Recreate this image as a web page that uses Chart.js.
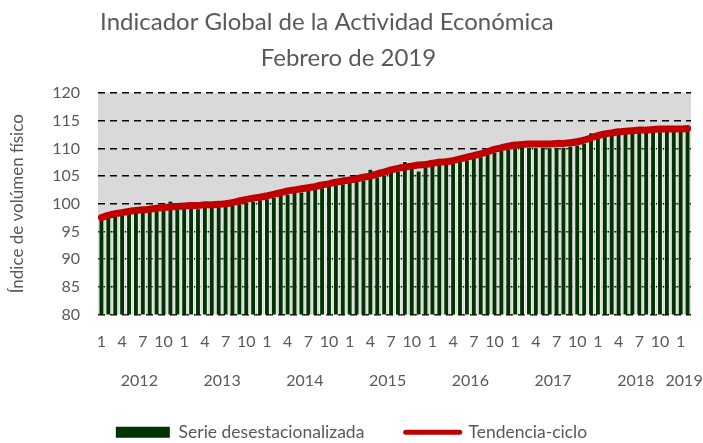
<!DOCTYPE html>
<html>
<head>
<meta charset="utf-8">
<script src="https://cdn.jsdelivr.net/npm/chart.js@4/dist/chart.umd.min.js"></script>
<style>
  html, body { margin: 0; padding: 0; background: #fff; }
  #wrap { width: 703px; height: 443px; }
</style>
</head>
<body>
<div id="wrap"><canvas id="chart" width="703" height="443"></canvas></div>
<script>
/* IGAE, serie desestacionalizada + tendencia-ciclo, ene 2012 – feb 2019 */

const years = [2012, 2013, 2014, 2015, 2016, 2017, 2018, 2019];
const monthsPerYear = [12, 12, 12, 12, 12, 12, 12, 2];
const monthTickLabels = ["1", "4", "7", "10"];
const yTicks = [80, 85, 90, 95, 100, 105, 110, 115, 120];

// Serie desestacionalizada (barras)
const serie = [
  97.2, 97.6, 98.0, 98.0, 98.3, 98.5, 98.6, 98.7, 98.9, 99.0, 100.6, 99.1,       // 2012
  99.3, 99.5, 99.2, 99.6, 99.4, 99.6, 99.6, 99.8, 100.1, 100.4, 100.5, 100.8,    // 2013
  101.0, 101.2, 101.6, 101.8, 102.1, 102.2, 102.5, 102.7, 103.0, 103.2, 103.5, 103.7, // 2014
  104.0, 104.1, 104.4, 106.3, 104.9, 105.3, 105.8, 106.0, 107.7, 106.5, 106.0, 106.7, // 2015
  107.0, 108.3, 107.2, 107.4, 107.7, 108.0, 108.3, 108.6, 109.0, 109.4, 109.7, 110.0, // 2016
  110.2, 110.3, 110.3, 110.2, 110.3, 110.2, 110.3, 110.3, 110.5, 110.7, 111.0, 112.9, // 2017
  112.0, 112.3, 112.5, 112.7, 112.8, 112.9, 113.0, 113.0, 113.1, 113.1, 113.2, 113.3, // 2018
  113.3, 113.4                                                                    // 2019
];

// Tendencia-ciclo (línea)
const tendencia = [
  97.5, 97.9, 98.2, 98.4, 98.6, 98.8, 98.9, 99.0, 99.2, 99.3, 99.4, 99.5,
  99.6, 99.7, 99.7, 99.8, 99.8, 99.9, 100.0, 100.2, 100.5, 100.8, 101.0, 101.2,
  101.4, 101.7, 102.0, 102.3, 102.5, 102.7, 102.9, 103.1, 103.4, 103.6, 103.9, 104.1,
  104.3, 104.5, 104.8, 105.0, 105.4, 105.7, 106.1, 106.4, 106.6, 106.8, 107.0, 107.1,
  107.3, 107.5, 107.6, 107.8, 108.1, 108.4, 108.7, 109.0, 109.4, 109.8, 110.1, 110.4,
  110.6, 110.7, 110.8, 110.8, 110.8, 110.8, 110.9, 110.9, 111.0, 111.2, 111.5, 111.9,
  112.3, 112.6, 112.8, 113.0, 113.1, 113.2, 113.3, 113.3, 113.4, 113.5, 113.5, 113.5,
  113.5, 113.6
];

const GREEN = "#003300";
const RED = "#c00000";
const TEXT = "#595959";
const FONT = "Lato, 'Open Sans', sans-serif";
const NBSP = "\u00a0";

// month categories + year centres for the second axis
const categories = [];
const monthOf = [];
const yearCenters = [];
years.forEach((y, k) => {
  yearCenters.push(categories.length + (monthsPerYear[k] - 1) / 2);
  for (let m = 1; m <= monthsPerYear[k]; m++) {
    categories.push(`${y}-${m}`);
    monthOf.push(String(m));
  }
});

/* grey plot background */
const plotBg = {
  id: "plotBg",
  beforeDraw(chart) {
    const { ctx, chartArea: a } = chart;
    ctx.save();
    ctx.fillStyle = "#d9d9d9";
    ctx.fillRect(a.left, a.top, a.right - a.left, a.bottom - a.top);
    ctx.restore();
  },
};

// fixed side margins for the x axes (title and legend keep the full width)
const sidePadding = (right) => (s) => { s.paddingLeft = 0; s.paddingRight = right; };

new Chart(document.getElementById("chart"), {
  data: {
    labels: categories,
    datasets: [
      {
        type: "bar",
        label: "Serie desestacionalizada",
        data: serie,
        backgroundColor: GREEN,
        borderColor: "rgba(245,245,245,0.9)",
        borderWidth: 1,
        barPercentage: 0.85,
        categoryPercentage: 1,
        order: 2,
      },
      {
        type: "line",
        label: "Tendencia-ciclo",
        data: tendencia,
        borderColor: RED,
        borderWidth: 7,
        borderCapStyle: "round",
        pointRadius: 0,
        tension: 0.4,
        order: 1,
      },
    ],
  },
  options: {
    responsive: false,
    animation: false,
    layout: { padding: { left: 0, right: 0, top: 4, bottom: -8 } },
    plugins: {
      title: {
        display: true,
        text: ["Indicador Global de la Actividad Económica" + NBSP.repeat(8), "Febrero de 2019" + NBSP],
        color: TEXT,
        font: { family: FONT, size: 24, weight: "normal", lineHeight: 1.5 },
        padding: { top: 0, bottom: 17 },
      },
      legend: {
        position: "bottom",
        labels: {
          color: TEXT,
          font: { family: FONT, size: 17.5 },
          usePointStyle: true,
          pointStyleWidth: 54,
          boxHeight: 11,
          padding: 10,
          sort: (a, b) => a.datasetIndex - b.datasetIndex,
          generateLabels(chart) {
            const items = Chart.defaults.plugins.legend.labels.generateLabels(chart);
            items.forEach((it) => {
              if (it.datasetIndex === 0) {
                it.text = it.text + NBSP.repeat(7);
                it.pointStyle = "rect";
                it.fillStyle = GREEN;
                it.strokeStyle = GREEN;
                it.lineWidth = 0;
              } else {
                it.pointStyle = "line";
                it.strokeStyle = RED;
                it.lineWidth = 5;
                it.lineCap = "round";
              }
            });
            return items;
          },
        },
      },
      tooltip: { enabled: false },
    },
    scales: {
      x: {
        type: "category",
        offset: true,
        grid: { display: false, drawTicks: false },
        border: { display: false },
        ticks: {
          autoSkip: false,
          maxRotation: 0,
          padding: 18,
          color: TEXT,
          font: { family: FONT, size: 16 },
          callback: (v, i) => (monthTickLabels.includes(monthOf[i]) ? monthOf[i] : null),
        },
        afterFit: (s) => { s.height = 45; sidePadding(0)(s); },
      },
      x2: {
        type: "linear",
        position: "bottom",
        min: -0.5,
        max: categories.length - 0.5,
        grid: { display: false, drawTicks: false },
        border: { display: false },
        afterBuildTicks: (s) => { s.ticks = yearCenters.map((v) => ({ value: v })); },
        ticks: {
          autoSkip: false,
          maxRotation: 0,
          padding: 12,
          color: TEXT,
          font: { family: FONT, size: 16 },
          callback: (v, i) => String(years[i]),
        },
        afterFit: (s) => { s.height = 54; sidePadding(12)(s); },
      },
      y: {
        min: 80,
        max: 120,
        afterBuildTicks: (s) => { s.ticks = yTicks.map((v) => ({ value: v })); },
        grid: { color: "#000", lineWidth: 1.5, drawTicks: false },
        border: { display: false, dash: [7, 5] },
        ticks: {
          padding: 18,
          color: TEXT,
          font: { family: FONT, size: 16 },
        },
        title: {
          display: true,
          text: "Índice de volúmen físico",
          color: TEXT,
          font: { family: FONT, size: 17 },
          padding: { top: 7, bottom: 0 },
        },
        afterFit: (s) => { s.width = 98; },
      },
    },
  },
  plugins: [plotBg],
});
</script>
</body>
</html>
